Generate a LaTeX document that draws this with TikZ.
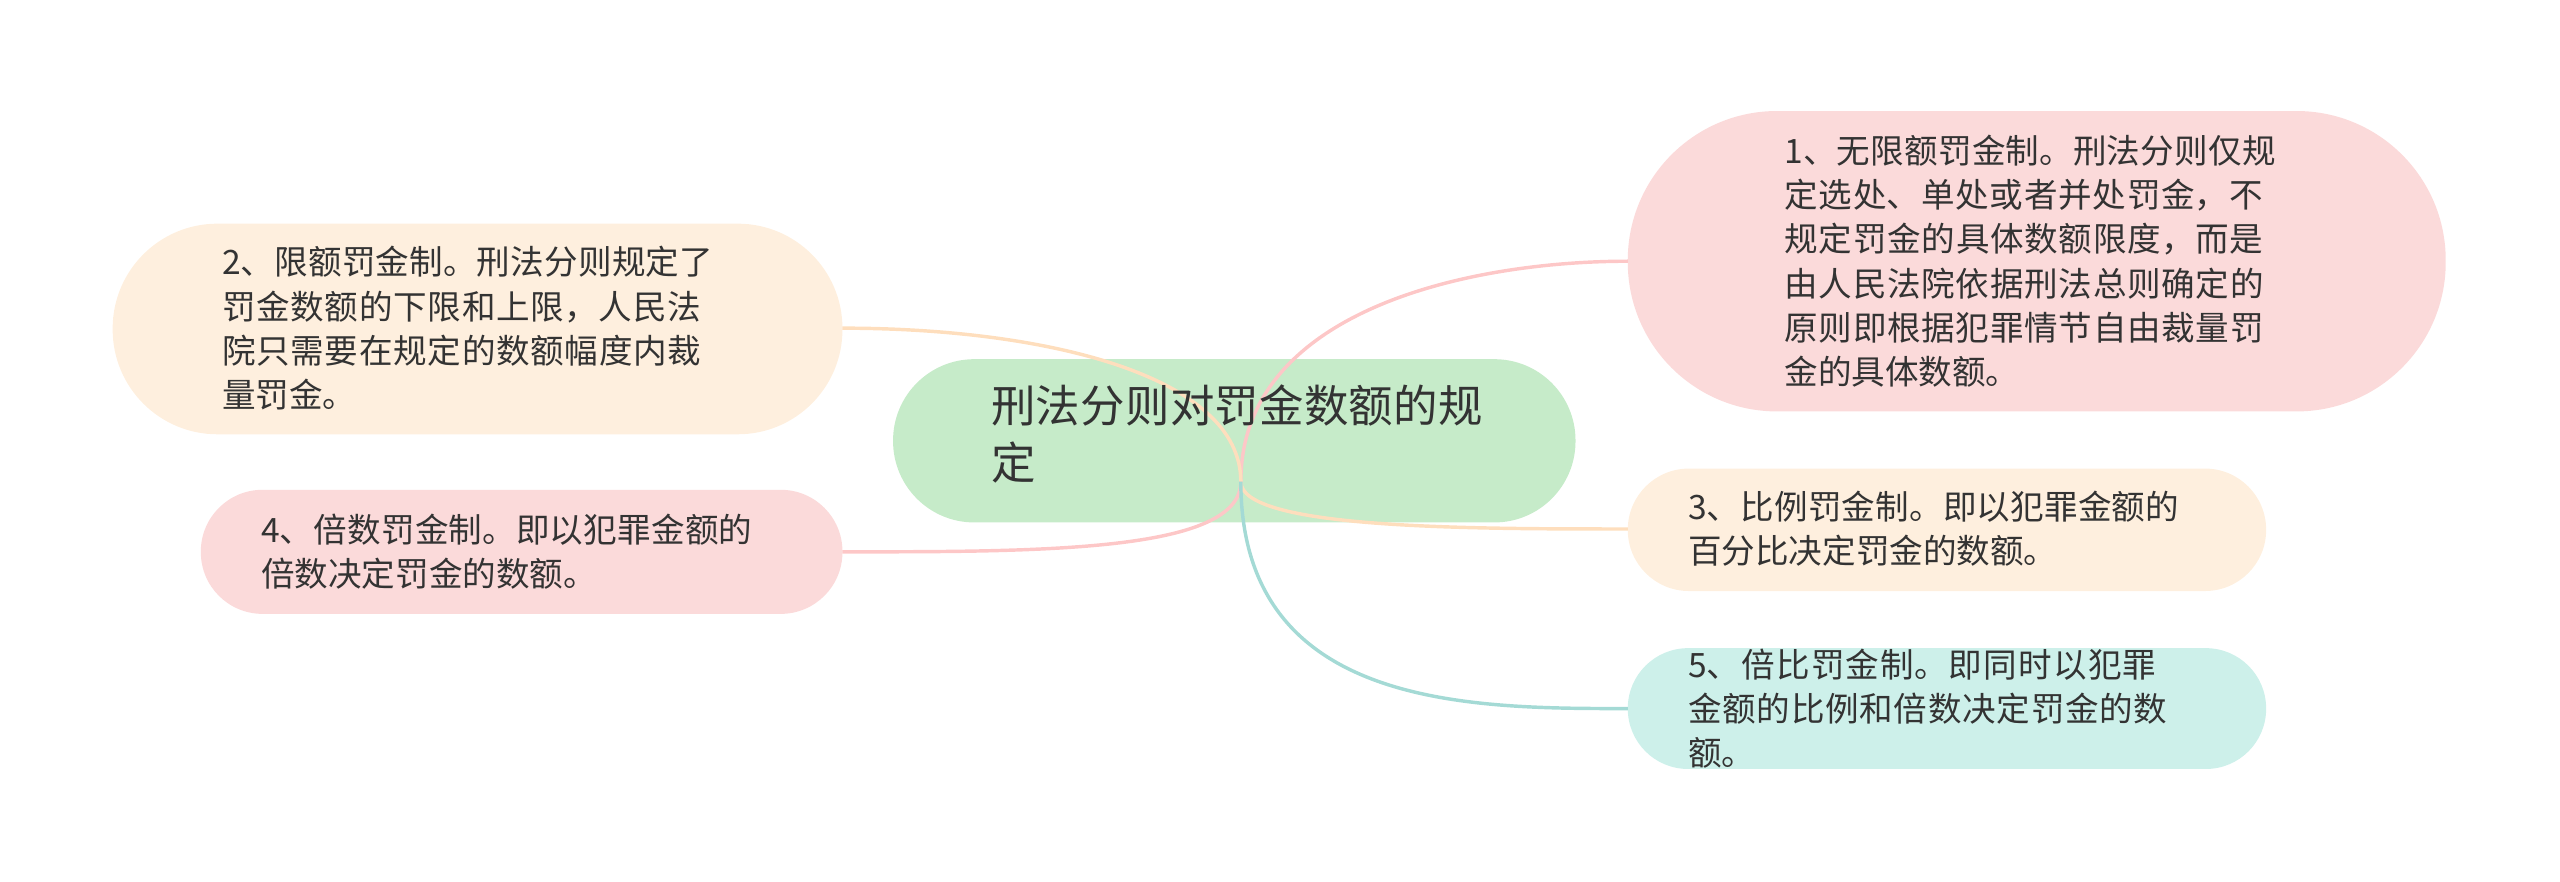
\documentclass[tikz,border=0pt]{standalone}
\usepackage{fontspec}
\newfontfamily\cjk{Noto Sans CJK SC}
\XeTeXlinebreaklocale "zh"
\XeTeXlinebreakskip=0pt plus 1pt
\definecolor{cgreen}{HTML}{C6EBC9}
\definecolor{cpink}{HTML}{FBDADA}
\definecolor{cpeach}{HTML}{FEEFDE}
\definecolor{ccyan}{HTML}{CDF0EA}
\definecolor{txt}{HTML}{333333}
\begin{document}
\begin{tikzpicture}[x=0.02cm,y=-0.02cm,
  box/.style={inner sep=0pt,text=txt,font=\cjk\fontsize{11.7pt}{15.4pt}\selectfont,align=left},
  edge/.style={line width=1.2pt}]
\useasboundingbox (0,0) rectangle (1568,540);
\fill[cgreen,rounded corners=28.3pt] (547,220) rectangle (965,320);
\fill[cpink,rounded corners=52pt] (997,68) rectangle (1498,252);
\fill[cpeach,rounded corners=36.5pt] (69,137) rectangle (516,266);
\fill[cpink,rounded corners=21.5pt] (123,300) rectangle (516,376);
\fill[cpeach,rounded corners=21.3pt] (997,287) rectangle (1388,362);
\fill[ccyan,rounded corners=21pt] (997,397) rectangle (1388,471);
\coordinate (c) at (760,295);
\coordinate (e1) at (997,160);
\coordinate (e2) at (516,201);
\coordinate (e4) at (516,338);
\coordinate (e3) at (997,324);
\coordinate (e5) at (997,434);
\draw[edge,cpink!80!red!70] (c) .. controls (760,190) and (900,160) .. (e1);
\draw[edge,cpeach!85!orange] (c) .. controls (760,230) and (640,201) .. (e2);
\draw[edge,cpink!80!red!70] (c) .. controls (760,338) and (640,338) .. (e4);
\draw[edge,cpeach!85!orange] (c) .. controls (760,324) and (900,324) .. (e3);
\draw[edge,ccyan!80!teal] (c) .. controls (760,434) and (900,434) .. (e5);
\node[box,font=\cjk\fontsize{15.5pt}{20pt}\selectfont,text width=174pt,align=left] (n0) at (760,266) {刑法分则对罚金数额的规定};
\node[box,text width=173pt] (n1) at (1245,160) {1、无限额罚金制。刑法分则仅规定选处、单处或者并处罚金，不规定罚金的具体数额限度，而是由人民法院依据刑法总则确定的原则即根据犯罪情节自由裁量罚金的具体数额。};
\node[box,text width=173pt] (n2) at (288,201) {2、限额罚金制。刑法分则规定了罚金数额的下限和上限，人民法院只需要在规定的数额幅度内裁量罚金。};
\node[box,text width=173pt] (n4) at (312,338) {4、倍数罚金制。即以犯罪金额的倍数决定罚金的数额。};
\node[box,text width=173pt] (n3) at (1186,324) {3、比例罚金制。即以犯罪金额的百分比决定罚金的数额。};
\node[box,text width=173pt] (n5) at (1186,434) {5、倍比罚金制。即同时以犯罪金额的比例和倍数决定罚金的数额。};
\end{tikzpicture}
\end{document}
